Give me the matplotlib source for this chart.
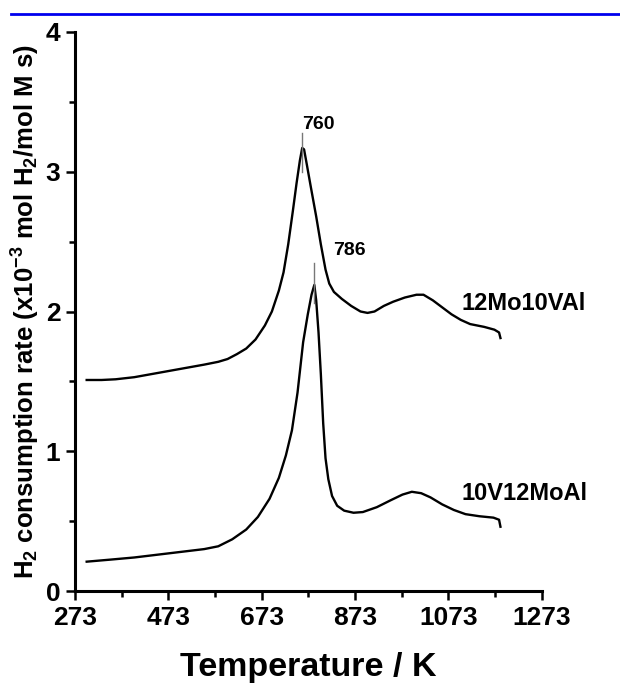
import matplotlib.pyplot as plt
from matplotlib.lines import Line2D
from matplotlib.ticker import MultipleLocator

plt.rcParams['font.family'] = ['Liberation Sans', 'DejaVu Sans']
plt.rcParams['font.weight'] = 'bold'
plt.rcParams['axes.labelweight'] = 'bold'
plt.rcParams['mathtext.fontset'] = 'custom'
plt.rcParams['mathtext.rm'] = 'Liberation Sans:bold'
plt.rcParams['mathtext.it'] = 'Liberation Sans:bold'
plt.rcParams['mathtext.bf'] = 'Liberation Sans:bold'
plt.rcParams['mathtext.default'] = 'rm'

# 12Mo10VAl (upper trace)
t_mo = [298, 330, 360, 400, 450, 500, 550, 580, 600, 620, 640, 660, 680, 695, 710,
        720, 730, 740, 748, 755, 760, 764, 770, 778, 790, 800, 810, 818, 828, 845,
        865, 885, 900, 915, 935, 955, 980, 1005, 1020, 1040, 1060, 1080, 1100,
        1120, 1150, 1172, 1182, 1185]
r_mo = [1.51, 1.51, 1.515, 1.53, 1.56, 1.59, 1.62, 1.64, 1.66, 1.695, 1.735, 1.80,
        1.90, 2.00, 2.15, 2.28, 2.48, 2.72, 2.92, 3.08, 3.17, 3.16, 3.05, 2.90,
        2.68, 2.48, 2.30, 2.20, 2.14, 2.09, 2.04, 2.00, 1.99, 2.00, 2.04, 2.07,
        2.10, 2.12, 2.12, 2.08, 2.03, 1.98, 1.94, 1.91, 1.89, 1.87, 1.85, 1.81]

# 10V12MoAl (lower trace)
t_v = [298, 350, 400, 450, 500, 550, 580, 610, 640, 665, 690, 710, 725, 738, 750,
       762, 772, 780, 786, 790, 795, 800, 805, 810, 816, 824, 835, 850, 870, 890,
       920, 950, 975, 995, 1015, 1035, 1060, 1085, 1110, 1140, 1170, 1182, 1185]
r_v = [0.21, 0.225, 0.24, 0.26, 0.28, 0.30, 0.32, 0.37, 0.44, 0.53, 0.66, 0.81,
       0.97, 1.15, 1.42, 1.78, 1.98, 2.12, 2.19, 2.08, 1.85, 1.55, 1.20, 0.95,
       0.80, 0.68, 0.61, 0.575, 0.56, 0.565, 0.60, 0.65, 0.69, 0.71, 0.70, 0.67,
       0.62, 0.58, 0.55, 0.535, 0.525, 0.51, 0.46]

peak_t = [760, 786]
peak_lo = [3.0, 2.06]
peak_hi = [3.28, 2.35]
peak_lbl = ['760', '786']
peak_lbl_x = [760, 862]
peak_lbl_y = [3.34, 2.44]

sample_names = ['12Mo10VAl', '10V12MoAl']
sample_lbl_x = [1102, 1102]
sample_lbl_y = [2.06, 0.70]

fig = plt.figure(figsize=(6.2, 6.85), dpi=100)
ax = fig.add_axes([0.121, 0.1372, 0.7524, 0.8161])

ax.plot(t_mo, r_mo, color='black', lw=1.7, solid_joinstyle='round')
ax.plot(t_v, r_v, color='black', lw=1.7, solid_joinstyle='round')

for t, lo, hi in zip(peak_t, peak_lo, peak_hi):
    ax.plot([t, t], [lo, hi], color='#777777', lw=1.0)

ax.text(peak_lbl_x[0], peak_lbl_y[0], peak_lbl[0], fontsize=14, ha='left', va='center')
ax.text(peak_lbl_x[1], peak_lbl_y[1], peak_lbl[1], fontsize=14, ha='center', va='center')

for name, x, y in zip(sample_names, sample_lbl_x, sample_lbl_y):
    ax.text(x, y, name, fontsize=17, ha='left', va='center')

ax.set_xlim(273, 1273)
ax.set_ylim(0, 4)
ax.set_xticks([273, 473, 673, 873, 1073, 1273])
ax.xaxis.set_minor_locator(MultipleLocator(100, offset=73))
ax.yaxis.set_major_locator(MultipleLocator(1))
ax.yaxis.set_minor_locator(MultipleLocator(0.5))

for s in ['top', 'right']:
    ax.spines[s].set_visible(False)
for s in ['left', 'bottom']:
    ax.spines[s].set_linewidth(2.2)

ax.tick_params(which='major', direction='out', length=6.5, width=1.8, labelsize=19, pad=4)
ax.tick_params(which='minor', direction='out', length=4, width=1.8)

ax.set_xlabel('Temperature / K', fontsize=24.5, labelpad=16)
ax.set_ylabel('H$_2$ consumption rate (x10$^{-3}$ mol H$_2$/mol M s)', fontsize=18.5, labelpad=3)

fig.add_artist(Line2D([11 / 620, 1], [1 - 14 / 685] * 2, color='#0000ee', lw=2,
                      transform=fig.transFigure))

fig.savefig('out.png', dpi=100)
